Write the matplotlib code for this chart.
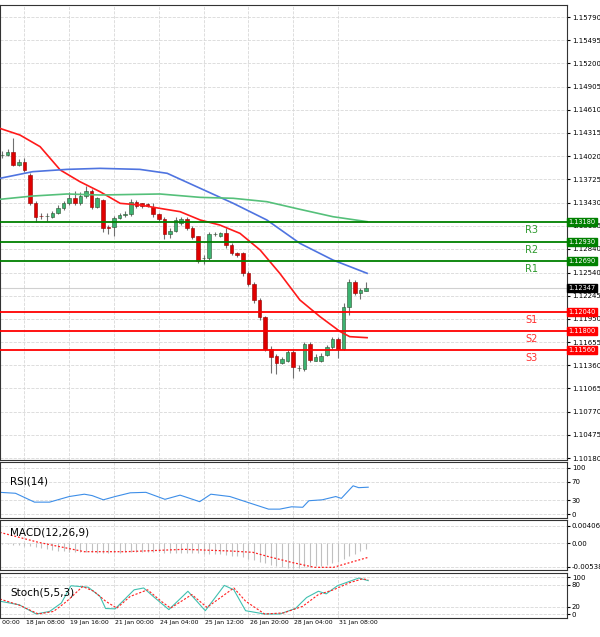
import numpy as np
import matplotlib.pyplot as plt

# ---- candles (index = bar number) ----
opens = [1.14035, 1.14035, 1.14077, 1.13908, 1.13950, 1.13780, 1.13420, 1.13263, 1.13258, 1.13250,
         1.13293, 1.13356, 1.13420, 1.13484, 1.13420, 1.13513, 1.13577, 1.13378, 1.13462, 1.13115,
         1.13115, 1.13238, 1.13272, 1.13280, 1.13441, 1.13420, 1.13412, 1.13378, 1.13280, 1.13216,
         1.13026, 1.13068, 1.13174, 1.13221, 1.13102, 1.13005, 1.12720, 1.12720, 1.13026, 1.13005,
         1.13038, 1.12890, 1.12784, 1.12784, 1.12530, 1.12394, 1.12190, 1.11970, 1.11567, 1.11478,
         1.11385, 1.11419, 1.11525, 1.11325, 1.11317, 1.11631, 1.11419, 1.11419, 1.11491, 1.11588,
         1.11694, 1.11567, 1.12097, 1.12415, 1.12284, 1.12309]
closes = [1.14040, 1.14077, 1.13908, 1.13950, 1.13844, 1.13420, 1.13250, 1.13258, 1.13263, 1.13293,
          1.13356, 1.13420, 1.13484, 1.13420, 1.13513, 1.13577, 1.13378, 1.13484, 1.13102, 1.13110,
          1.13238, 1.13272, 1.13280, 1.13441, 1.13386, 1.13386, 1.13390, 1.13280, 1.13216, 1.13026,
          1.13068, 1.13208, 1.13221, 1.13102, 1.12996, 1.12691, 1.12725, 1.13026, 1.13030, 1.13038,
          1.12890, 1.12784, 1.12763, 1.12530, 1.12394, 1.12190, 1.11970, 1.11567, 1.11470, 1.11385,
          1.11436, 1.11525, 1.11334, 1.11330, 1.11631, 1.11427, 1.11461, 1.11478, 1.11588, 1.11694,
          1.11567, 1.12097, 1.12415, 1.12275, 1.12318, 1.12347]
highs = [1.14080, 1.14110, 1.14250, 1.13990, 1.14000, 1.13800, 1.13450, 1.13300, 1.13300, 1.13320,
         1.13400, 1.13450, 1.13560, 1.13580, 1.13560, 1.13640, 1.13600, 1.13500, 1.13480, 1.13150,
         1.13260, 1.13300, 1.13320, 1.13470, 1.13460, 1.13430, 1.13420, 1.13420, 1.13300, 1.13240,
         1.13100, 1.13240, 1.13240, 1.13240, 1.13130, 1.13010, 1.12760, 1.13060, 1.13060, 1.13060,
         1.13100, 1.12910, 1.12800, 1.12800, 1.12560, 1.12420, 1.12210, 1.11990, 1.11600, 1.11500,
         1.11470, 1.11560, 1.11560, 1.11360, 1.11650, 1.11660, 1.11500, 1.11510, 1.11620, 1.11720,
         1.11720, 1.12150, 1.12460, 1.12440, 1.12340, 1.12420]
lows = [1.14000, 1.14020, 1.13890, 1.13890, 1.13820, 1.13400, 1.13180, 1.13220, 1.13200, 1.13230,
        1.13280, 1.13330, 1.13400, 1.13400, 1.13400, 1.13490, 1.13350, 1.13360, 1.13050, 1.13030,
        1.13000, 1.13220, 1.13250, 1.13260, 1.13360, 1.13360, 1.13370, 1.13250, 1.13190, 1.12960,
        1.12980, 1.13050, 1.13150, 1.13080, 1.12960, 1.12660, 1.12650, 1.12700, 1.13000, 1.12990,
        1.12850, 1.12760, 1.12740, 1.12500, 1.12370, 1.12150, 1.11940, 1.11540, 1.11260, 1.11250,
        1.11370, 1.11400, 1.11200, 1.11290, 1.11290, 1.11400, 1.11410, 1.11400, 1.11480, 1.11570,
        1.11450, 1.11550, 1.12000, 1.12250, 1.12200, 1.12300]

# ---- moving averages (bar position, price) ----
red_ma_x = [-0.4, 3.2, 6.8, 10.4, 13.9, 17.5, 21.1, 24.6, 28.2, 31.8, 35.4, 38.9, 42.5, 46.1, 49.6, 53.2, 56.8, 60.4, 62.1, 65.2]
red_ma_y = [1.14374, 1.14289, 1.14141, 1.13844, 1.13696, 1.13568, 1.13420, 1.13399, 1.13356, 1.13314,
            1.13208, 1.13144, 1.13038, 1.12826, 1.12530, 1.12190, 1.11978, 1.11788, 1.11724, 1.11711]
blue_ma_x = [-0.4, 5.5, 11.6, 17.5, 24.6, 29.5, 35.4, 41.3, 47.3, 53.2, 59.1, 65.2]
blue_ma_y = [1.13738, 1.13823, 1.13852, 1.13865, 1.13852, 1.13802, 1.13611, 1.13420, 1.13208, 1.12911, 1.12699, 1.12530]
green_ma_x = [-0.4, 5.5, 11.6, 17.5, 28.2, 35.4, 41.3, 47.3, 53.2, 59.1, 65.2]
green_ma_y = [1.13471, 1.13513, 1.13539, 1.13526, 1.13539, 1.13496, 1.13484, 1.13441, 1.13344, 1.13250, 1.13187]

# ---- pivot levels ----
res_names = ["R3", "R2", "R1"]
res_levels = [1.13180, 1.12930, 1.12690]
sup_names = ["S1", "S2", "S3"]
sup_levels = [1.12040, 1.11800, 1.11560]
last_price = 1.12347

price_ticks = [1.15790, 1.15495, 1.15200, 1.14905, 1.14610, 1.14315, 1.14020, 1.13725, 1.13430,
               1.13135, 1.12840, 1.12540, 1.12245, 1.11950, 1.11655, 1.11360, 1.11065, 1.10770, 1.10475, 1.10180]

# ---- RSI ----
rsi_x = [-0.4, 2.4, 5.8, 8.5, 12.0, 14.7, 16.1, 18.1, 20.2, 22.9, 25.7, 29.1, 31.8, 35.3, 37.3, 40.7,
         43.5, 47.6, 49.6, 51.7, 53.7, 54.8, 57.2, 59.6, 60.6, 62.7, 63.7, 65.4]
rsi_y = [47, 45, 26, 26, 38, 43, 40, 31, 38, 46, 47, 32, 41, 27, 43, 38,
         27, 11, 11, 16, 15, 29, 31, 38, 34, 61, 57, 58]

# ---- MACD ----
macd_hist = [-0.0001, -0.0002, -0.0003, -0.0004, -0.0005, -0.0007, -0.0009, -0.0011, -0.0013, -0.0015,
             -0.0017, -0.0018, -0.0019, -0.0020, -0.0020, -0.0021, -0.0021, -0.0022, -0.0022, -0.0022,
             -0.0022, -0.0022, -0.0021, -0.0021, -0.0021, -0.0021, -0.0021, -0.0021, -0.0021, -0.0022,
             -0.0022, -0.0022, -0.0022, -0.0022, -0.0023, -0.0023, -0.0024, -0.0024, -0.0024, -0.0025,
             -0.0026, -0.0028, -0.0030, -0.0032, -0.0035, -0.0038, -0.0042, -0.0046, -0.0050, -0.0053,
             -0.0055, -0.0056, -0.0056, -0.0056, -0.0055, -0.0054, -0.0053, -0.0052, -0.0050, -0.0046,
             -0.0042, -0.0037, -0.0030, -0.0024, -0.0018, -0.0012]
sig_x = [-0.4, 6.5, 14.7, 22.2, 32.5, 40.7, 44.8, 47.6, 51.7, 55.8, 59.2, 62.7, 65.4]
sig_y = [0.00253, 0.00023, -0.00192, -0.00192, -0.00138, -0.00176, -0.00207, -0.00306, -0.00437,
         -0.00552, -0.00552, -0.00421, -0.00322]

# ---- Stochastic ----
stk_x = [-0.4, 3.1, 6.1, 8.5, 10.6, 12.3, 15.4, 17.5, 18.5, 20.2, 23.6, 25.3, 27.0, 29.8, 33.2, 36.3,
         39.7, 41.4, 43.5, 46.9, 49.6, 52.4, 54.4, 56.5, 57.9, 59.9, 63.7, 65.4]
stk_y = [35, 25, 0, 7, 30, 77, 73, 48, 15, 14, 66, 71, 48, 12, 62, 9,
         78, 66, 9, 0, 0, 15, 45, 62, 55, 77, 98, 91]
std_x = [-0.4, 3.1, 6.5, 9.2, 11.6, 14.4, 16.4, 18.5, 20.5, 22.9, 26.0, 28.4, 30.1, 33.9, 36.6, 41.4,
         43.5, 46.9, 50.3, 53.7, 56.5, 59.2, 62.0, 64.4, 65.4]
std_y = [41, 24, 0, 7, 35, 75, 62, 35, 16, 48, 66, 35, 16, 53, 18, 71,
         35, 0, 3, 21, 53, 66, 85, 96, 93]

tick_pos = [-4, 4, 12, 20, 28, 36, 44, 52, 60]
tick_labels = ["17 Jan 00:00", "18 Jan 08:00", "19 Jan 16:00", "21 Jan 00:00", "24 Jan 04:00",
               "25 Jan 12:00", "26 Jan 20:00", "28 Jan 04:00", "31 Jan 08:00"]

W, H = 600, 637
fig = plt.figure(figsize=(6, 6.37), dpi=100)
XMIN, XMAX = -0.36, 100.9


def panel(top, bottom):
    return fig.add_axes([0, (H - bottom) / H, 567 / W, (bottom - top) / H])


def style(ax):
    ax.yaxis.tick_right()
    ax.tick_params(axis='y', labelsize=5, length=2, pad=1.5)
    ax.tick_params(axis='x', length=0, labelbottom=False)
    ax.set_xticks(tick_pos)
    ax.set_xlim(XMIN, XMAX)
    ax.grid(True, color='#d8d8d8', linestyle='--', linewidth=0.6)
    for s in ax.spines.values():
        s.set_color('#333333')
        s.set_linewidth(0.8)


ax = panel(5, 460)
style(ax)
ax.set_ylim(1.10155, 1.15943)
ax.set_yticks(price_ticks)
ax.set_yticklabels([f"{t:.5f}" for t in price_ticks])

idx = np.arange(len(opens))
for i in idx:
    o, c = opens[i], closes[i]
    up = c >= o
    ax.vlines(i, lows[i], highs[i], color='#707070', linewidth=0.8, zorder=3)
    col = '#3cb371' if up else '#e00000'
    ax.bar(i, max(abs(c - o), 0.00004), bottom=min(o, c), width=0.62,
           color=col, edgecolor='#2f4f2f' if up else '#900000', linewidth=0.4, zorder=4)

ax.plot(red_ma_x, red_ma_y, color='#ff1a1a', linewidth=1.2, zorder=5)
ax.plot(blue_ma_x, blue_ma_y, color='#4f74e0', linewidth=1.2, zorder=5)
ax.plot(green_ma_x, green_ma_y, color='#55c07a', linewidth=1.2, zorder=5)

ax.axhline(last_price, color='#d0d0d0', linewidth=0.8, zorder=2)
for name, lv in zip(res_names, res_levels):
    ax.axhline(lv, color='#008000', linewidth=1.3, zorder=6)
    ax.text(94.5, lv - 0.0004, name, color='#2e9a2e', fontsize=7, va='top', ha='center')
for name, lv in zip(sup_names, sup_levels):
    ax.axhline(lv, color='#ff0000', linewidth=1.3, zorder=6)
    ax.text(94.5, lv - 0.0004, name, color='#ff3030', fontsize=7, va='top', ha='center')


def tag(y, text, fc):
    ax.annotate(text, xy=(1.0, y), xycoords=('axes fraction', 'data'), xytext=(1, 0),
                textcoords='offset points', fontsize=4.8, color='white', va='center', ha='left',
                bbox=dict(boxstyle='square,pad=0.15', fc=fc, ec=fc), annotation_clip=False, zorder=10)


for lv in res_levels:
    tag(lv, f"{lv:.5f}", '#008000')
for lv in sup_levels:
    tag(lv, f"{lv:.5f}", '#ff0000')
tag(last_price, f"{last_price:.5f}", '#000000')

# RSI
ar = panel(462, 518)
style(ar)
ar.set_ylim(-8, 112)
ar.set_yticks([0, 30, 70, 100])
ar.plot(rsi_x, rsi_y, color='#3d8ee8', linewidth=0.8)
ar.text(1.5, 70, "RSI(14)", fontsize=7.5, va='center')

# MACD
am = panel(520, 570)
style(am)
am.set_ylim(-0.00613, 0.00536)
am.set_yticks([0.00406, 0.0, -0.005388])
am.set_yticklabels(["0.00406", "0.00", "-0.005388"])
am.vlines(idx, 0, macd_hist, color='#c0c0c0', linewidth=0.8)
am.plot(sig_x, sig_y, color='#ff2020', linewidth=0.9, linestyle=(0, (1.5, 1.5)))
am.text(1.5, 0.0026, "MACD(12,26,9)", fontsize=7.5, va='center')

# Stochastic
ast = panel(573, 618)
style(ast)
ast.set_ylim(-10.9, 111.8)
ast.set_yticks([0, 20, 80, 100])
ast.plot(stk_x, stk_y, color='#40c0b0', linewidth=0.8)
ast.plot(std_x, std_y, color='#ff2020', linewidth=0.8, linestyle=(0, (2, 1.5)))
ast.text(1.5, 58, "Stoch(5,5,3)", fontsize=7.5, va='center')
for p, lab in zip(tick_pos, tick_labels):
    ast.text(p + 0.2, -16, lab, fontsize=4.4, ha='left', va='top', clip_on=False)

fig.savefig("out.png", dpi=100)
